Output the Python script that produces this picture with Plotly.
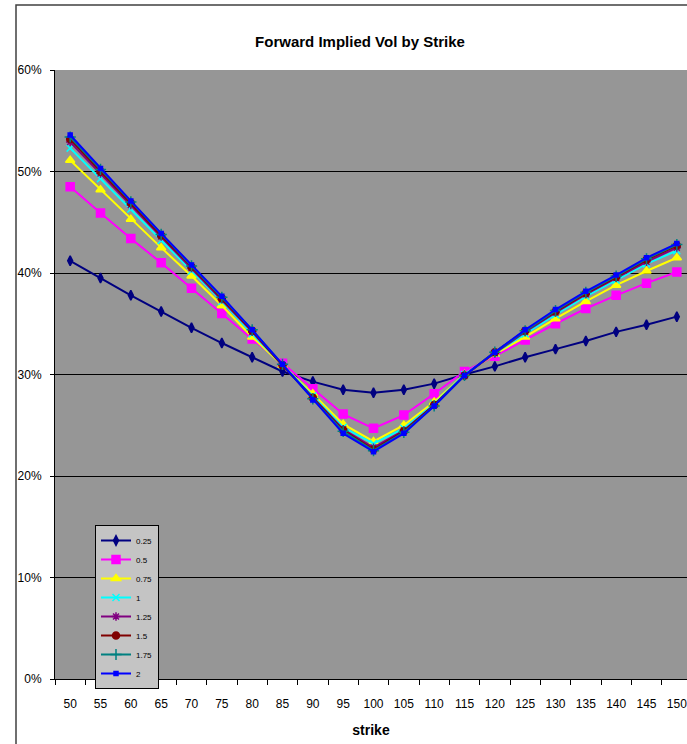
import plotly.graph_objects as go

strikes = ["50", "55", "60", "65", "70", "75", "80", "85", "90", "95", "100",
           "105", "110", "115", "120", "125", "130", "135", "140", "145", "150"]

series_names = ["0.25", "0.5", "0.75", "1", "1.25", "1.5", "1.75", "2"]

vol_025 = [41.2, 39.5, 37.8, 36.2, 34.6, 33.1, 31.7, 30.3, 29.3, 28.5, 28.2, 28.5, 29.1, 30.0, 30.8, 31.7, 32.5, 33.3, 34.2, 34.9, 35.7]
vol_050 = [48.5, 45.9, 43.4, 41.0, 38.5, 36.0, 33.5, 31.1, 28.6, 26.1, 24.7, 26.0, 28.1, 30.3, 31.8, 33.4, 35.0, 36.5, 37.8, 39.0, 40.1]
vol_075 = [51.1, 48.2, 45.3, 42.5, 39.7, 36.8, 33.7, 30.9, 28.1, 25.1, 23.4, 25.0, 27.3, 30.0, 32.0, 33.7, 35.5, 37.2, 38.8, 40.2, 41.5]
vol_100 = [52.3, 49.3, 46.3, 43.2, 40.2, 37.2, 34.0, 30.9, 27.9, 24.8, 23.2, 24.7, 27.1, 30.0, 32.1, 34.0, 35.9, 37.7, 39.3, 40.9, 42.2]
vol_125 = [52.9, 49.8, 46.7, 43.6, 40.5, 37.4, 34.2, 30.9, 27.7, 24.6, 22.8, 24.5, 27.0, 29.9, 32.1, 34.2, 36.1, 37.9, 39.5, 41.1, 42.5]
vol_150 = [53.2, 50.0, 46.9, 43.7, 40.6, 37.5, 34.3, 30.9, 27.7, 24.5, 22.6, 24.4, 27.0, 29.9, 32.2, 34.3, 36.2, 38.0, 39.6, 41.3, 42.7]
vol_175 = [53.4, 50.2, 47.0, 43.8, 40.7, 37.6, 34.4, 31.0, 27.6, 24.4, 22.5, 24.3, 26.9, 29.9, 32.2, 34.3, 36.3, 38.1, 39.7, 41.4, 42.8]
vol_200 = [53.6, 50.3, 47.1, 43.9, 40.8, 37.7, 34.4, 31.0, 27.5, 24.2, 22.4, 24.2, 26.9, 29.9, 32.2, 34.4, 36.4, 38.2, 39.8, 41.5, 42.9]

all_vols = [vol_025, vol_050, vol_075, vol_100, vol_125, vol_150, vol_175, vol_200]

colors = ["#000080", "#FF00FF", "#FFFF00", "#00FFFF", "#800080", "#800000", "#008080", "#0000FF"]
symbols = ["diamond-tall", "square", "triangle-up", "x-thin-open", "asterisk-open", "circle", "cross-thin-open", "square"]
msizes = [7, 8, 8, 7, 7, 7, 8, 4]

FONT = "Liberation Sans Narrow, Arial Narrow, Liberation Sans, Arial, sans-serif"

fig = go.Figure()
for name, vals, c, s, ms in zip(series_names, all_vols, colors, symbols, msizes):
    fig.add_trace(go.Scatter(
        x=strikes, y=vals, name=name, mode="lines+markers",
        line=dict(color=c, width=2),
        marker=dict(symbol=s, size=ms, color=c, line=dict(color=c, width=1.5)),
    ))

W, H = 687, 744
L, T, B = 55, 70, 65
pw = W - L
ph = H - T - B

fig.update_layout(
    width=W, height=H,
    margin=dict(l=L, r=0, t=T, b=B),
    paper_bgcolor="white",
    plot_bgcolor="#969696",
    font=dict(family=FONT, size=11, color="black"),
    title=dict(text="<b>Forward Implied Vol by Strike</b>", x=360 / W, xref="container",
               xanchor="center", y=1 - 42 / H, yref="container", yanchor="middle",
               font=dict(family=FONT, size=15, color="black")),
    showlegend=True,
    legend=dict(x=(95 - L) / pw, y=(679 - 525) / ph, xanchor="left", yanchor="top",
                bgcolor="#c4c4c4", bordercolor="black", borderwidth=1,
                font=dict(family=FONT, size=8), itemwidth=30, tracegroupgap=0),
    xaxis=dict(type="category", range=[-0.5, 20.5 - (692 - W) / 30.35],
               showline=True, linecolor="black", linewidth=1,
               ticks="outside", ticklen=5, tickcolor="black", tickson="boundaries",
               showgrid=False, ticklabelstandoff=14,
               tickfont=dict(family=FONT, size=12),
               title=dict(text="<b>strike</b>", font=dict(family=FONT, size=14), standoff=14)),
    yaxis=dict(range=[0, 60], dtick=10, ticksuffix="%",
               showline=True, linecolor="black", linewidth=1,
               ticks="outside", ticklen=4, tickcolor="black",
               showgrid=True, gridcolor="black", gridwidth=1, zeroline=False,
               ticklabelstandoff=6,
               tickfont=dict(family=FONT, size=12)),
    shapes=[dict(type="rect", xref="paper", yref="paper",
                 x0=(16 - L) / pw, x1=1.2, y0=-0.3, y1=1 + (T - 5) / ph,
                 line=dict(color="#404040", width=1.5), layer="below")],
)

fig.write_html("out.html")
